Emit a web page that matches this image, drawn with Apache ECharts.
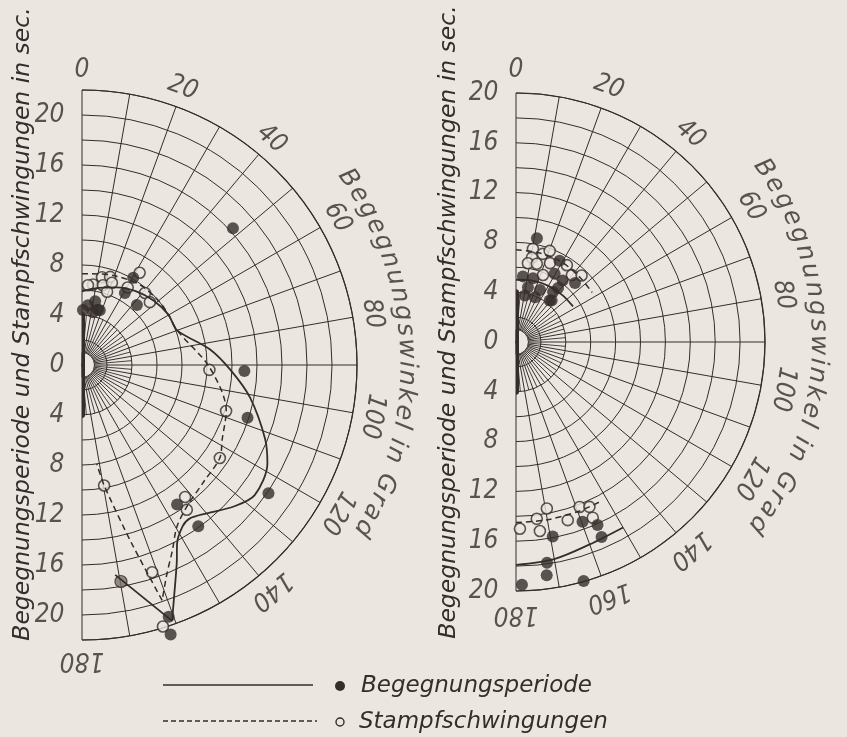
<!DOCTYPE html>
<html>
<head>
<meta charset="utf-8">
<script src="https://cdn.jsdelivr.net/npm/echarts@6/dist/echarts.min.js"></script>
<style>
  html, body { margin: 0; padding: 0; background: #ebe7e0; }
  #chart { width: 847px; height: 737px; }
</style>
</head>
<body>
<div id="chart"></div>
<script>
// Values: radius = period in seconds, angle = encounter angle in degrees (0 = head seas, 180 = following seas)

const radialTicks = [0, 4, 8, 12, 16, 20];
const angleTicksLeft = [0, 20, 40, 60, 80, 100, 120, 140, 180];
const angleTicksRight = [0, 20, 40, 60, 80, 100, 120, 140, 160, 180];
const radialTitle = 'Begegnungsperiode und Stampfschwingungen in sec.';
const arcTitle = 'Begegnungswinkel in Grad';
const legendNames = ['Begegnungsperiode', 'Stampfschwingungen'];

// ship marker drawn on the axis
const hullBar = [[4, 0], [0, 0], [4, 180]];

// ---- left diagram ----
const leftPeriod = [
  [16.3, 47.8], [4.8, 5.7], [5.2, 11.7], [4.6, 18], [4.3, 11.7], [4.4, 1], [4.6, 16],
  [8.1, 30.4], [6.7, 30.8], [6.5, 42.5],
  [13.0, 92.1], [13.9, 107.7], [18.1, 124.5], [15.9, 144.2], [13.5, 145.7],
  [21.3, 161], [22.7, 161.8]
];
const leftPeriodGrey = [[17.6, 169.8]];
const leftPitch = [
  [7.2, 12.8], [7.4, 17.7], [6.5, 7.8], [6.6, 14.7], [7.0, 20], [6.2, 18.9], [6.4, 4.3],
  [8.7, 32], [7.65, 41.2], [7.4, 47.2], [7.2, 30.5],
  [10.2, 92.2], [12.1, 107.7], [13.3, 124], [13.4, 142], [14.3, 144.1],
  [9.8, 169.6], [17.5, 161.3], [21.9, 162.8]
];
const leftPeriodCurve = [
  [5.9, 0], [6.3, 12], [6.8, 24], [7.3, 36], [7.7, 48], [8.0, 60], [8.1, 70],
  [10.3, 83], [11.9, 92], [13.7, 101], [15.8, 112], [16.8, 118], [17.3, 127],
  [16.6, 133], [15.5, 140], [15.0, 145], [15.2, 148], [16.2, 152], [17.6, 154.5],
  [20.0, 158.4], [21.7, 160.6]
];
const leftPeriodTail = [[21.7, 160.6], [17.0, 171]];
const leftPitchCurve = [
  [7.3, 0], [7.4, 10], [7.6, 20], [7.9, 35], [8.0, 50], [8.0, 60], [8.1, 70],
  [10.2, 91], [12.1, 107.5], [12.7, 118], [13.3, 124], [13.5, 134], [14.1, 143.5],
  [15.0, 149.6], [16.5, 154], [18.0, 157.8], [19.9, 161.2]
];
const leftPitchBranch = [[19.9, 161.2], [14.5, 164.7], [9.8, 169.6], [8.0, 171.5]];

// ---- right diagram ----
const rightPeriod = [
  [8.5, 11.4], [7.4, 28.2], [6.2, 37.2], [6.3, 29.5], [5.3, 14.9], [4.5, 12.3],
  [4.6, 24.8], [3.8, 10.8], [3.9, 22.9], [5.0, 36.5], [4.3, 39], [5.5, 37.9],
  [6.7, 45], [4.4, 40.6], [5.3, 6],
  [15.9, 169.3], [15.4, 159.7], [16.1, 156], [17.1, 156.3], [17.9, 172],
  [18.9, 172.5], [19.5, 178.6], [19.95, 164.2]
];
const rightPitch = [
  [7.6, 10.3], [7.4, 16.9], [7.8, 20.3], [6.9, 10.7], [6.4, 8.6], [6.5, 14.9],
  [6.9, 23.3], [7.4, 33.5], [7.0, 39.9], [7.5, 44.6], [5.8, 22],
  [15.0, 178.8], [14.3, 173.3], [13.6, 169.5], [15.3, 172.8], [14.9, 163.8],
  [14.2, 158.9], [14.5, 156], [15.4, 156.4]
];
const rightPeriodCurveTop = [[5.0, 0], [5.1, 15], [5.2, 30], [5.3, 45], [5.4, 58]];
const rightPitchCurveTop = [[7.4, 0], [7.4, 15], [7.4, 30], [7.3, 45], [7.3, 57]];
const rightPeriodCurveBottom = [[17.9, 180], [17.7, 170], [17.3, 160], [17.2, 150]];
const rightPitchCurveBottom = [[14.5, 180], [14.5, 170], [14.5, 160], [14.5, 152]];

// ---- styling ----
const BG = '#ebe7e0';
const INK = '#342d2b';
const FONT = "'DejaVu Sans', sans-serif";
const NUM_FONT = "'DejaVu Sans Condensed', 'Liberation Sans Narrow', 'DejaVu Sans', sans-serif";

const panels = [
  {
    center: [82, 365], R: 275, max: 22, ticks: angleTicksLeft,
    labelR: 23.6, titleR: 26.0, titleFrom: 55, titleTo: 120,
    titleX: 23, titleY: 324,
    period: leftPeriod, periodGrey: leftPeriodGrey, pitch: leftPitch,
    solid: [{ d: leftPeriodCurve, smooth: 0.3 }, { d: leftPeriodTail, smooth: false }],
    dashed: [{ d: leftPitchCurve, smooth: 0.3 }, { d: leftPitchBranch, smooth: 0.2 }]
  },
  {
    center: [516, 342], R: 249, max: 20, ticks: angleTicksRight,
    labelR: 21.8, titleR: 24.3, titleFrom: 55, titleTo: 127,
    titleX: 449, titleY: 322,
    period: rightPeriod, periodGrey: [], pitch: rightPitch,
    solid: [{ d: rightPeriodCurveTop, smooth: 0.3 }, { d: rightPeriodCurveBottom, smooth: 0.3 }],
    dashed: [{ d: rightPitchCurveTop, smooth: 0.3 }, { d: rightPitchCurveBottom, smooth: 0.3 }]
  }
];

// angles of the short extra rays between the pole and the r = 4 circle
const fineRays = [];
for (let a = 5; a < 180; a += 10) fineRays.push([4, a]);

// place the characters of the curved axis title along an arc
function arcChars(text, rUnits, fromDeg, toDeg, font) {
  const ctx = document.createElement('canvas').getContext('2d');
  ctx.font = font;
  const chars = [...text];
  const w = chars.map(ch => ctx.measureText(ch).width);
  const total = w.reduce((a, b) => a + b, 0);
  const first = w[0] / 2, last = total - w[w.length - 1] / 2;
  const out = [];
  let x = 0;
  chars.forEach((ch, i) => {
    const c = x + w[i] / 2;
    x += w[i];
    if (ch === ' ') return;
    const a = fromDeg + (c - first) / (last - first) * (toDeg - fromDeg);
    out.push({ value: [rUnits, a], ch: ch, label: { rotate: -a } });
  });
  return out;
}

const textBase = { fontFamily: FONT, fontStyle: 'italic', color: INK };
const numBase = { fontFamily: NUM_FONT, fontStyle: 'italic', color: INK };

function panelSeries(pi, P) {
  const base = { coordinateSystem: 'polar', polarIndex: pi, silent: true, animation: false };
  const s = [];
  // extra rays near the pole
  s.push(Object.assign({}, base, {
    type: 'custom', clip: false, data: fineRays,
    renderItem: (params, api) => {
      const a = api.value(1);
      const p0 = api.coord([1, a]);
      const p1 = api.coord([api.value(0), a]);
      return { type: 'line', shape: { x1: p0[0], y1: p0[1], x2: p1[0], y2: p1[1] },
               style: { stroke: INK, lineWidth: 0.9 } };
    }
  }));
  // open half-disc at the pole
  s.push(Object.assign({}, base, {
    type: 'custom', clip: false, data: [[1, 0]],
    renderItem: (params, api) => {
      const c = api.coord([0, 0]);
      const e = api.coord([api.value(0), 0]);
      const r = Math.hypot(e[0] - c[0], e[1] - c[1]);
      return { type: 'sector',
               shape: { cx: c[0], cy: c[1], r0: 0, r: r, startAngle: -Math.PI / 2, endAngle: Math.PI / 2, clockwise: true },
               style: { fill: BG, stroke: INK, lineWidth: 1 } };
    }
  }));
  // curves
  P.solid.forEach(c => s.push(Object.assign({}, base, {
    type: 'line', data: c.d, smooth: c.smooth, symbol: 'none', clip: false,
    lineStyle: { color: INK, width: 1.8 }
  })));
  P.dashed.forEach(c => s.push(Object.assign({}, base, {
    type: 'line', data: c.d, smooth: c.smooth, symbol: 'none', clip: false,
    lineStyle: { color: INK, width: 1.5, type: [6, 4] }
  })));
  // ship marker
  s.push(Object.assign({}, base, {
    type: 'line', data: hullBar, symbol: 'none', clip: false,
    lineStyle: { color: INK, width: 6, cap: 'round' }
  }));
  // measured points
  s.push(Object.assign({}, base, {
    type: 'scatter', name: legendNames[1], data: P.pitch, symbol: 'circle', symbolSize: 11, clip: false,
    itemStyle: { color: BG, borderColor: INK, borderWidth: 1.6 }
  }));
  s.push(Object.assign({}, base, {
    type: 'scatter', name: legendNames[0], data: P.period, symbol: 'circle', symbolSize: 12, clip: false,
    itemStyle: { color: INK }
  }));
  if (P.periodGrey.length) s.push(Object.assign({}, base, {
    type: 'scatter', data: P.periodGrey, symbol: 'circle', symbolSize: 12, clip: false,
    itemStyle: { color: '#7a716c', borderColor: INK, borderWidth: 1.2 }
  }));
  // radius tick labels (upwards along 0 deg and downwards along 180 deg)
  const rl = radialTicks.map(v => [v, 0]).concat(radialTicks.filter(v => v > 0).map(v => [v, 180]));
  s.push(Object.assign({}, base, {
    type: 'scatter', data: rl, symbolSize: 1, clip: false, itemStyle: { color: 'transparent' },
    label: Object.assign({ show: true, position: 'left', distance: 17, fontSize: 26,
                           formatter: p => String(p.value[0]) }, numBase)
  }));
  // angle tick labels, turned with the angle
  s.push(Object.assign({}, base, {
    type: 'scatter', symbolSize: 1, clip: false, itemStyle: { color: 'transparent' },
    data: P.ticks.map(a => ({ value: [P.labelR, a], label: { rotate: -a } })),
    label: Object.assign({ show: true, position: 'inside', fontSize: 26,
                           formatter: p => String(p.value[1]) }, numBase)
  }));
  // curved axis title
  s.push(Object.assign({}, base, {
    type: 'scatter', symbolSize: 1, clip: false, itemStyle: { color: 'transparent' },
    data: arcChars(arcTitle, P.titleR, P.titleFrom, P.titleTo, 'italic 25px ' + FONT),
    label: Object.assign({ show: true, position: 'inside', fontSize: 25,
                           formatter: p => p.data.ch }, textBase)
  }));
  return s;
}

const chart = echarts.init(document.getElementById('chart'), null, { renderer: 'canvas' });

const graphic = [];
panels.forEach(P => graphic.push({
  type: 'text', x: P.titleX, y: P.titleY, rotation: Math.PI / 2, silent: true,
  style: { text: radialTitle, fontSize: 23.5, fontFamily: FONT, fontStyle: 'italic', fill: INK,
           align: 'center', verticalAlign: 'middle' }
}));
// legend
graphic.push(
  { type: 'line', shape: { x1: 163, y1: 685, x2: 313, y2: 685 }, style: { stroke: INK, lineWidth: 1.5 } },
  { type: 'circle', shape: { cx: 340, cy: 686, r: 5 }, style: { fill: INK } },
  { type: 'text', x: 361, y: 686, style: { text: legendNames[0], fontSize: 23, fontFamily: FONT, fontStyle: 'italic',
      fill: INK, align: 'left', verticalAlign: 'middle' } },
  { type: 'line', shape: { x1: 163, y1: 721, x2: 317, y2: 721 }, style: { stroke: INK, lineWidth: 1.3, lineDash: [5, 3] } },
  { type: 'circle', shape: { cx: 340, cy: 722, r: 4 }, style: { fill: BG, stroke: INK, lineWidth: 1.4 } },
  { type: 'text', x: 359, y: 722, style: { text: legendNames[1], fontSize: 23, fontFamily: FONT, fontStyle: 'italic',
      fill: INK, align: 'left', verticalAlign: 'middle' } }
);

const option = {
  backgroundColor: BG,
  animation: false,
  polar: panels.map(P => ({ center: P.center, radius: [0, P.R] })),
  angleAxis: panels.map((P, i) => ({
    polarIndex: i, type: 'value', min: 0, max: 180, interval: 10,
    startAngle: 90, endAngle: -90, clockwise: true,
    axisLine: { show: true, lineStyle: { color: INK, width: 1.2 } },
    axisTick: { show: false }, axisLabel: { show: false },
    splitLine: { show: true, lineStyle: { color: INK, width: 1 } }
  })),
  radiusAxis: panels.map((P, i) => ({
    polarIndex: i, type: 'value', min: 0, max: P.max, interval: 2,
    axisLine: { show: false }, axisTick: { show: false }, axisLabel: { show: false },
    splitLine: { show: true, lineStyle: { color: INK, width: 1 } }
  })),
  series: panels.flatMap((P, i) => panelSeries(i, P)),
  graphic: graphic
};
chart.setOption(option);
</script>
</body>
</html>
